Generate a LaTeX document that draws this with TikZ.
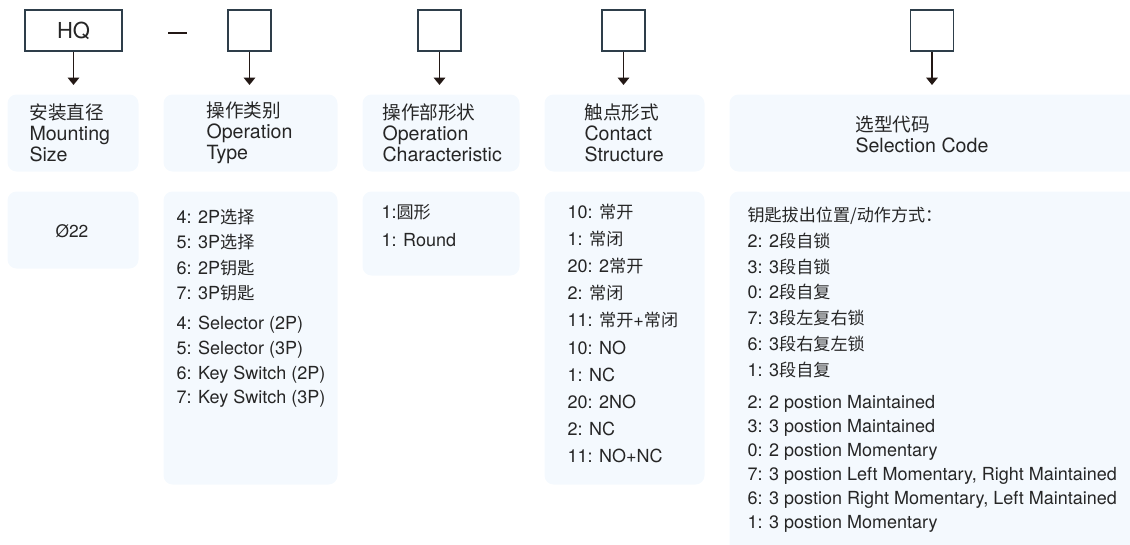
\documentclass[tikz,border=0pt]{standalone}
\usepackage{fontspec}
\setmainfont{TeX Gyre Heros}
\newfontfamily\cjk{Noto Sans CJK SC}[Scale=0.95]
\usetikzlibrary{arrows.meta}
\definecolor{panelblue}{RGB}{244,249,254}
\definecolor{boxline}{RGB}{46,62,74}
\definecolor{inkgray}{RGB}{38,38,38}
\definecolor{arrowink}{RGB}{35,24,21}
\tikzset{every picture/.style={line width=0.75pt}}

\begin{document}
\begin{tikzpicture}[x=0.75pt,y=0.75pt,yscale=-1,xscale=1,
  slotbox/.style={draw=boxline,line width=1pt,fill=white,inner sep=0pt,minimum height=30.75pt,minimum width=32.25pt},
  panel/.style 2 args={fill=panelblue,rounded corners=6.75pt,inner sep=0pt,anchor=north west,minimum width=#1*0.75pt,minimum height=#2*0.75pt},
  headtxt/.style={anchor=west,align=left,inner sep=0pt,text=inkgray,font=\fontsize{14.7}{15.75}\selectfont},
  listtxt/.style={anchor=base west,align=left,inner sep=0pt,text=inkgray,font=\fontsize{13.5}{#1}\selectfont},
  arr/.style={-{Triangle[width=8.5pt,length=5.5pt]},line width=1.4pt,draw=arrowink,shorten >=6.75pt}]
\useasboundingbox (0,0) rectangle (1130,544);

%Shape: Rectangle
\node [slotbox,minimum width=72.75pt,font=\fontsize{16.5}{16.5}\selectfont,text=inkgray] (hq) at (73.5,30.5) {HQ};
\node [slotbox] (slottype) at (249.5,30.5) {};
\node [slotbox] (slotshape) at (439.5,30.5) {};
\node [slotbox] (slotcontact) at (623.5,30.5) {};
\node [slotbox] (slotcode) at (932,30.5) {};
%Straight Lines
\draw [arrowink,line width=2pt] (168,33) -- (187,33) ;

%Rounded Rect: headers
\node [panel={131}{77}] (pmount) at (7,94) {};
\node [panel={174}{77}] (ptype) at (163,94) {};
\node [panel={157}{77}] (pshape) at (362,94) {};
\node [panel={160}{77}] (pcontact) at (544,94) {};
\node [panel={410}{77}] (pcode) at (729,94) {};

%Rounded Rect: values
\node [panel={131}{77}] (vmount) at (7,191) {};
\node [panel={174}{293}] (vtype) at (163,191) {};
\node [panel={157}{84}] (vshape) at (362,191) {};
\node [panel={160}{293}] (vcontact) at (544,191) {};
\node [panel={410}{365}] (vcode) at (729,191) {};

%Straight Lines
\draw [arr] (hq.south) -- (hq.south |- pmount.north) ;
\draw [arr] (slottype.south) -- (slottype.south |- ptype.north) ;
\draw [arr] (slotshape.south) -- (slotshape.south |- pshape.north) ;
\draw [arr] (slotcontact.south) -- (slotcontact.south |- pcontact.north) ;
\draw [arr] (slotcode.south) -- (slotcode.south |- pcode.north) ;

% Text Node
\node [headtxt] (tmount) at (29,133) {{\cjk 安装直径}\\Mounting\\Size};
% Text Node
\node [headtxt] (ttype) at (206,133) {{\cjk 操作类别}\\Operation\\Type};
% Text Node
\node [headtxt] (tshape) at (382,133) {{\cjk 操作部形状}\\Operation\\Characteristic};
% Text Node
\node [headtxt] (tcontact) at (584,133) {{\cjk 触点形式}\\Contact\\Structure};
% Text Node
\node [headtxt] (tcode) at (855,134) {{\cjk 选型代码}\\Selection Code};

% Text Node (anchored on the last baseline)
\node [text=inkgray,inner sep=0pt,font=\fontsize{13}{13}\selectfont] (lmount) at (72,231) {Ø22};
% Text Node
\node [listtxt=19] (ltypecn) at (176,299.4) {4: 2P{\cjk 选择}\\5: 3P{\cjk 选择}\\6: 2P{\cjk 钥匙}\\7: 3P{\cjk 钥匙}};
\node [listtxt=18.6] (ltypeen) at (176,403.9) {4: Selector (2P)\\5: Selector (3P)\\6: Key Switch (2P)\\7: Key Switch (3P)};
% Text Node
\node [listtxt=21] (lshape) at (381,246.5) {1:{\cjk 圆形}\\1: Round};
% Text Node
\node [listtxt=20.25] (lcontactcn) at (567,326.5) {10: {\cjk 常开}\\1: {\cjk 常闭}\\20: 2{\cjk 常开}\\2: {\cjk 常闭}\\11: {\cjk 常开}+{\cjk 常闭}};
\node [listtxt=20.25] (lcontacten) at (567,462.5) {10: NO\\1: NC\\20: 2NO\\2: NC\\11: NO+NC};
% Text Node
\node [listtxt=19.35] (lcodecn) at (747,376.3) {{\cjk 钥匙拔出位置/动作方式：}\\2: 2{\cjk 段自锁}\\3: 3{\cjk 段自锁}\\0: 2{\cjk 段自复}\\7: 3{\cjk 段左复右锁}\\6: 3{\cjk 段右复左锁}\\1: 3{\cjk 段自复}};
\node [listtxt=18] (lcodeen) at (747,528.5) {2: 2 postion Maintained\\3: 3 postion Maintained\\0: 2 postion Momentary\\7: 3 postion Left Momentary, Right Maintained\\6: 3 postion Right Momentary, Left Maintained\\1: 3 postion Momentary};

\end{tikzpicture}
\end{document}
